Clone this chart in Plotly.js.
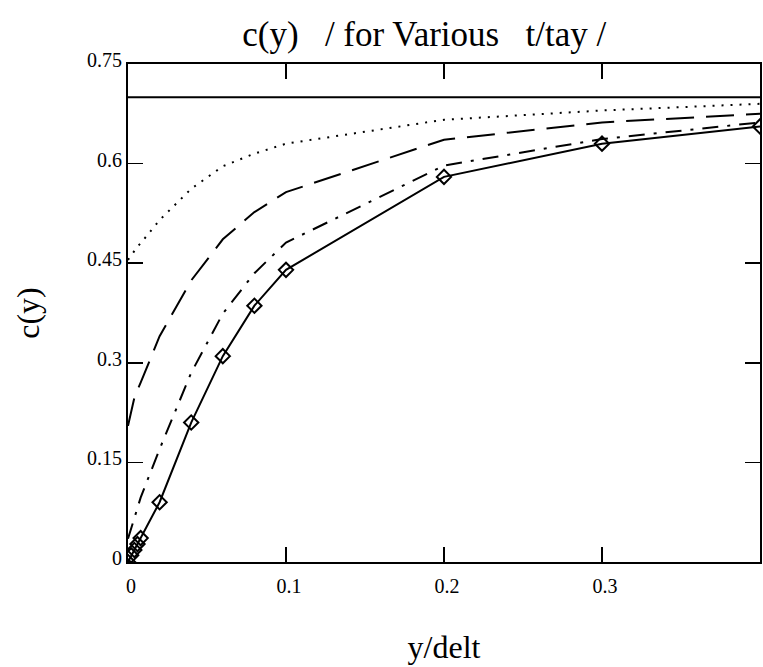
<!DOCTYPE html>
<html>
<head>
<meta charset="utf-8">
<script src="https://cdn.plot.ly/plotly-3.0.1.min.js"></script>
<style>html,body{margin:0;padding:0;background:#fff;}#chart{width:763px;height:667px;}</style>
</head>
<body>
<div id="chart"></div>
<script>
// y/delt sample points
var xVals = [0, 0.002, 0.004, 0.006, 0.008, 0.02, 0.04, 0.06, 0.08, 0.1, 0.2, 0.3, 0.4];
// c(y) for the various t/tau curves
var cSolid   = [0, 0.010, 0.018, 0.027, 0.036, 0.090, 0.210, 0.310, 0.386, 0.440, 0.580, 0.630, 0.656];
var cDashDot = [0.035, 0.050, 0.066, 0.082, 0.097, 0.170, 0.285, 0.374, 0.435, 0.481, 0.597, 0.637, 0.662];
var cDashed  = [0.205, 0.228, 0.247, 0.259, 0.270, 0.340, 0.424, 0.486, 0.527, 0.557, 0.636, 0.662, 0.675];
var cDotted  = [0.455, 0.462, 0.469, 0.475, 0.480, 0.515, 0.562, 0.596, 0.615, 0.630, 0.666, 0.680, 0.690];
// limiting value line
var xLimit = [0, 0.4];
var cLimit = [0.7, 0.7];
// tick labels
var xTicks = [0, 0.1, 0.2, 0.3];
var xTickText = ["0", "0.1", "0.2", "0.3"];
var yTicks = [0, 0.15, 0.3, 0.45, 0.6, 0.75];
var yTickText = ["0", "0.15", "0.3", "0.45", "0.6", "0.75"];
var titleText = "c(y)\u00A0\u00A0\u00A0/ for Various\u00A0\u00A0\u00A0t/tay /";

var black = "#000";
var traces = [
  {x: xLimit, y: cLimit, mode: "lines", line: {color: black, width: 2}},
  {x: xVals, y: cDotted, mode: "lines", line: {color: black, width: 2, dash: "2px,7px"}},
  {x: xVals, y: cDashed, mode: "lines", line: {color: black, width: 2, dash: "28px,12px"}},
  {x: xVals, y: cDashDot, mode: "lines", line: {color: black, width: 2, dash: "16px,9px,3px,9px"}},
  {x: xVals, y: cSolid, mode: "lines+markers", line: {color: black, width: 2},
   marker: {symbol: "diamond-open", size: 11, color: black, line: {width: 2, color: black}}}
];

var fam = "Liberation Serif";
function f(sz) { return {family: fam, size: sz, color: black}; }
var layout = {
  width: 763, height: 667,
  margin: {l: 128, r: 3, t: 64, b: 105},
  paper_bgcolor: "#fff", plot_bgcolor: "#fff",
  showlegend: false,
  font: f(20),
  title: {text: titleText, font: f(35),
          x: 0.556, xanchor: "center", y: 0.95, yanchor: "middle"},
  xaxis: {
    range: [0, 0.4], tickvals: xTicks, ticktext: xTickText,
    ticks: "inside", ticklen: 15, tickwidth: 1.5, tickcolor: black,
    showline: true, linecolor: black, linewidth: 2, mirror: "allticks",
    showgrid: false, zeroline: false, ticklabelstandoff: 5, ticklabelshift: 3,
    tickfont: f(20),
    title: {text: "y/delt", font: f(32), standoff: 40}
  },
  yaxis: {
    range: [0, 0.75], tickvals: yTicks, ticktext: yTickText,
    ticks: "inside", ticklen: 15, tickwidth: 1.5, tickcolor: black,
    showline: true, linecolor: black, linewidth: 2, mirror: "allticks",
    showgrid: false, zeroline: false, ticklabelstandoff: 0, ticklabelshift: -4,
    tickfont: f(20),
    title: {text: "c(y)", font: f(32), standoff: 38}
  }
};
Plotly.newPlot("chart", traces, layout, {displayModeBar: false, staticPlot: true});
</script>
</body>
</html>
